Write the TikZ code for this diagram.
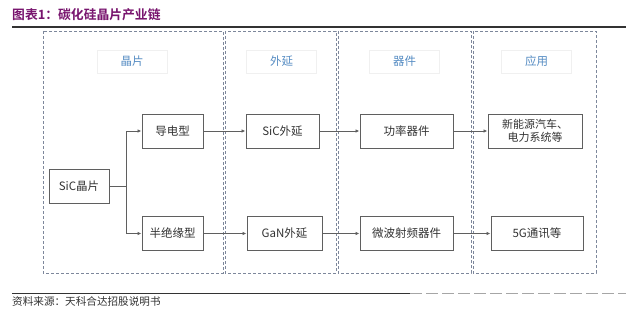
\documentclass[tikz,border=0pt]{standalone}
\usepackage{fontspec}
\setmainfont{Noto Sans CJK SC}
\newfontfamily\cjkbold{Noto Sans CJK SC Bold}
\usetikzlibrary{arrows.meta}
\definecolor{titlepurple}{RGB}{120,20,110}
\definecolor{frameblue}{RGB}{125,135,155}
\definecolor{headblue}{RGB}{85,140,195}
\definecolor{boxgray}{RGB}{95,95,95}
\begin{document}
\begin{tikzpicture}[x=1pt,y=-1pt,
  frame/.style={draw=frameblue,dashed,dash pattern=on 3pt off 2pt,line width=0.8pt},
  head/.style={draw=black!6,line width=0.8pt,minimum width=70pt,minimum height=23pt,inner sep=0pt,text=headblue,font=\fontsize{11.5}{12}\selectfont},
  item/.style={draw=boxgray,line width=1pt,minimum height=34pt,inner sep=0pt,align=center,font=\fontsize{11.5}{13}\selectfont,text=black!80},
  conn/.style={draw=boxgray,line width=1pt},
  arr/.style={conn,-{Latex[length=4pt,width=3.5pt]}}]
\useasboundingbox (0,0) rectangle (640,313);
\fill[white] (0,0) rectangle (640,313);
% title
\node[anchor=west,inner sep=0pt,text=titlepurple,font=\cjkbold\fontsize{12.8}{14}\selectfont] (title) at (12,15) {图表1：碳化硅晶片产业链};
\coordinate (tl) at (12,27); \coordinate (tr) at (626,27);
\draw[black!80,line width=1.2pt] (tl) -- (tr);
% frames
\draw[frame] (43,31) rectangle (223,273);
\draw[frame] (225,31) rectangle (336,273);
\draw[frame] (338,31) rectangle (471,273);
\draw[frame] (473,31) rectangle (596,273);
% headers
\node[head] (h1) at (132,61.5) {晶片};
\node[head] (h2) at (281.5,61.5) {外延};
\node[head] (h3) at (404.5,61.5) {器件};
\node[head] (h4) at (536.5,61.5) {应用};
% boxes
\node[item,minimum width=60pt] (sic) at (79,186.5) {SiC晶片};
\node[item,minimum width=61pt] (dd) at (172.5,131) {导电型};
\node[item,minimum width=61pt] (bj) at (172.5,233.5) {半绝缘型};
\node[item,minimum width=73pt] (sicw) at (282.5,131) {SiC外延};
\node[item,minimum width=75pt] (gan) at (284.5,233.5) {GaN外延};
\node[item,minimum width=93pt] (gl) at (406.5,131) {功率器件};
\node[item,minimum width=93pt] (wb) at (406.5,233.5) {微波射频器件};
\node[item,minimum width=94pt,font=\fontsize{11}{13}\selectfont] (xn) at (535,131) {新能源汽车、\\电力系统等};
\node[item,minimum width=92pt] (g5) at (537,233.5) {5G通讯等};
% connectors
\coordinate (j) at (126,186.5);
\draw[conn] (sic.east) -- (j);
\draw[arr] (j) |- (dd.west);
\draw[arr] (j) |- (bj.west);
\draw[arr] (dd) -- (sicw);
\draw[arr] (bj) -- (gan);
\draw[arr] (sicw) -- (gl);
\draw[arr] (gan) -- (wb);
\draw[arr] (gl) -- (xn);
\draw[arr] (wb) -- (g5);
% bottom
\coordinate (bl) at (12,293); \coordinate (bm) at (410,293); \coordinate (br) at (626,293);
\draw[black!80,line width=1pt] (bl) -- (bm);
\draw[black!35,line width=0.8pt,dash pattern=on 12pt off 4pt] (bm) -- (br);
\node[anchor=west,inner sep=0pt,font=\fontsize{10.6}{12}\selectfont,text=black!80] (src) at (12,301) {资料来源：天科合达招股说明书};
\end{tikzpicture}
\end{document}
